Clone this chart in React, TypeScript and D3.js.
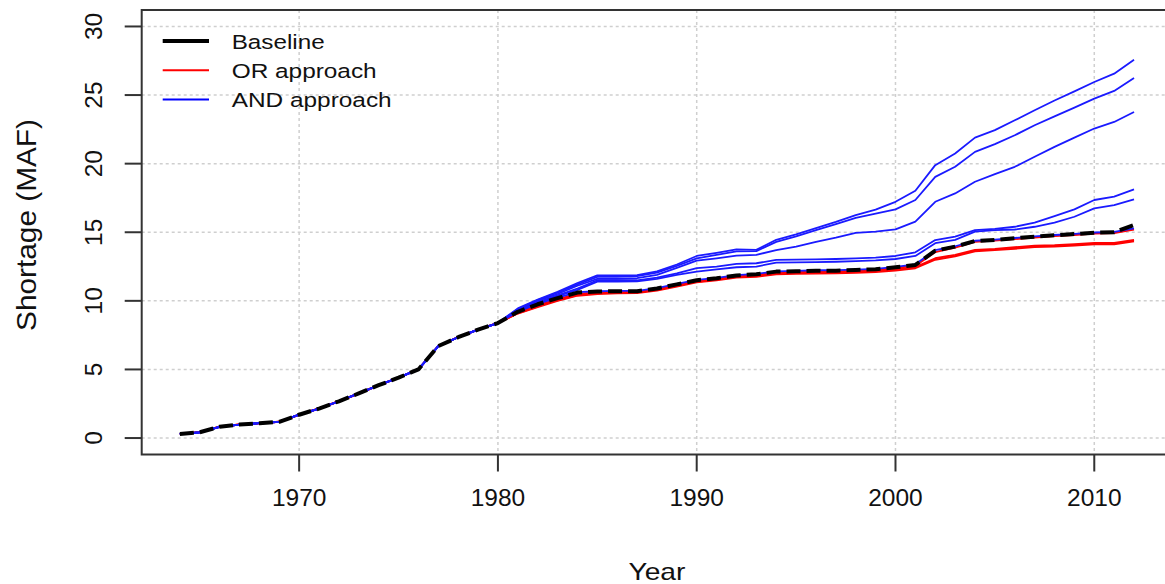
import React from 'react';
import * as d3 from 'd3';

const START_YEAR = 1964;
// 1964-1980, identical for every run
const sharedStart = [0.3, 0.42, 0.82, 0.98, 1.08, 1.18, 1.7, 2.15, 2.68, 3.25, 3.85, 4.4, 5.0, 6.7, 7.35, 7.9, 8.38];

// 1981-2012
const baselineTail = [9.2, 9.75, 10.2, 10.6, 10.68, 10.7, 10.7, 10.9, 11.2, 11.5, 11.65, 11.85, 11.94, 12.13, 12.15, 12.2, 12.2, 12.25, 12.3, 12.45, 12.62, 13.66, 13.95, 14.36, 14.44, 14.56, 14.68, 14.78, 14.87, 14.97, 15.0, 15.53];

const orUpper = [9.15, 9.68, 10.12, 10.5, 10.62, 10.65, 10.66, 10.85, 11.15, 11.45, 11.6, 11.8, 11.88, 12.08, 12.1, 12.15, 12.16, 12.2, 12.25, 12.4, 12.57, 13.55, 13.88, 14.3, 14.4, 14.5, 14.62, 14.72, 14.8, 14.9, 14.95, 15.2];
const orLowA = [9.1, 9.6, 10.05, 10.42, 10.55, 10.6, 10.62, 10.8, 11.1, 11.4, 11.55, 11.75, 11.82, 12.0, 12.03, 12.07, 12.08, 12.12, 12.17, 12.3, 12.45, 13.1, 13.35, 13.71, 13.78, 13.9, 14.02, 14.05, 14.12, 14.22, 14.22, 14.44];
const orLowB = [9.08, 9.55, 10.0, 10.38, 10.5, 10.55, 10.57, 10.75, 11.05, 11.35, 11.5, 11.7, 11.76, 11.94, 11.97, 12.0, 12.02, 12.05, 12.1, 12.22, 12.38, 13.0, 13.25, 13.62, 13.7, 13.8, 13.92, 13.96, 14.03, 14.12, 14.13, 14.35];

const and1 = [9.45, 10.1, 10.65, 11.3, 11.85, 11.85, 11.88, 12.15, 12.65, 13.27, 13.5, 13.75, 13.72, 14.45, 14.85, 15.3, 15.75, 16.25, 16.65, 17.22, 18.02, 19.89, 20.74, 21.9, 22.44, 23.16, 23.89, 24.6, 25.27, 25.95, 26.56, 27.58];
const and2 = [9.4, 10.05, 10.6, 11.2, 11.75, 11.75, 11.8, 12.05, 12.55, 13.1, 13.35, 13.6, 13.62, 14.3, 14.7, 15.15, 15.6, 16.05, 16.35, 16.67, 17.35, 19.04, 19.77, 20.86, 21.42, 22.07, 22.8, 23.45, 24.08, 24.74, 25.3, 26.24];
const and3 = [9.35, 10.0, 10.5, 11.1, 11.6, 11.6, 11.65, 11.9, 12.4, 12.93, 13.1, 13.3, 13.35, 13.7, 13.95, 14.3, 14.6, 14.95, 15.05, 15.21, 15.77, 17.22, 17.83, 18.68, 19.24, 19.77, 20.5, 21.22, 21.9, 22.56, 23.04, 23.77];
const and4 = [9.3, 9.9, 10.4, 10.9, 11.5, 11.5, 11.5, 11.7, 12.0, 12.38, 12.5, 12.7, 12.74, 12.98, 13.0, 13.02, 13.05, 13.1, 13.15, 13.27, 13.54, 14.43, 14.68, 15.16, 15.24, 15.4, 15.7, 16.18, 16.67, 17.35, 17.59, 18.12];
const and5 = [9.25, 9.85, 10.35, 10.8, 11.4, 11.4, 11.42, 11.6, 11.9, 12.13, 12.3, 12.45, 12.5, 12.78, 12.8, 12.82, 12.85, 12.9, 12.95, 13.05, 13.27, 14.2, 14.44, 15.04, 15.16, 15.2, 15.4, 15.7, 16.13, 16.74, 16.98, 17.4];
const and6 = [9.22, 9.78, 10.24, 10.63, 10.7, 10.72, 10.73, 10.93, 11.23, 11.53, 11.68, 11.88, 11.97, 12.15, 12.18, 12.23, 12.24, 12.28, 12.33, 12.48, 12.66, 13.7, 13.98, 14.38, 14.46, 14.58, 14.7, 14.8, 14.88, 14.98, 15.02, 15.28];

const orTails = [orLowB, orLowA, orUpper];
const andTails = [and6, and5, and4, and3, and2, and1];

const xTicks = [1970, 1980, 1990, 2000, 2010];
const yTicks = [0, 5, 10, 15, 20, 25, 30];
const legendLabels = ['Baseline', 'OR approach', 'AND approach'];
const legendColors = ['#000000', '#ff0000', '#0000ff'];
const legendWidths = [4, 2, 2];
const legendTextLen = [93, 145, 160];

const W = 1165;
const H = 584;
const box = { left: 141.7, right: 1172.2, top: 10, bottom: 454.5 };

const x = d3.scaleLinear().domain([1962.08, 2013.92]).range([box.left, box.right]);
const y = d3.scaleLinear().domain([-1.2, 31.2]).range([box.bottom, box.top]);

const toSeries = (tail: number[]) => [...sharedStart, ...tail].map((v, i) => [START_YEAR + i, v] as [number, number]);

const line = d3
  .line<[number, number]>()
  .x((d) => x(d[0]))
  .y((d) => y(d[1]));

const FONT = 'Liberation Sans, Arial, sans-serif';

export default function App() {
  return (
    <svg
      width={W}
      height={H}
      style={{ position: 'absolute', left: 0, top: 0, background: '#fff' }}
      fontFamily={FONT}
    >
      <rect x={0} y={0} width={W} height={H} fill="#fff" />
      {/* grid */}
      {xTicks.map((t) => (
        <line key={'gx' + t} x1={x(t)} x2={x(t)} y1={box.top} y2={box.bottom} stroke="#cfcfcf" strokeWidth={1.5} strokeDasharray="3,3" />
      ))}
      {yTicks.map((t) => (
        <line key={'gy' + t} x1={box.left} x2={box.right} y1={y(t)} y2={y(t)} stroke="#cfcfcf" strokeWidth={1.5} strokeDasharray="3,3" />
      ))}
      {/* OR lines */}
      {orTails.map((t, i) => (
        <path key={'or' + i} d={line(toSeries(t)) || ''} fill="none" stroke="#ff0000" strokeWidth={2} strokeLinejoin="round" />
      ))}
      {/* AND lines */}
      {andTails.map((t, i) => (
        <path key={'and' + i} d={line(toSeries(t)) || ''} fill="none" stroke="#1a1aff" strokeWidth={1.8} strokeLinejoin="round" />
      ))}
      {/* baseline */}
      <path d={line(toSeries(baselineTail)) || ''} fill="none" stroke="#000" strokeWidth={4} strokeDasharray="14,6" strokeLinejoin="round" />
      {/* box */}
      <rect x={box.left} y={box.top} width={box.right - box.left} height={box.bottom - box.top} fill="none" stroke="#333" strokeWidth={2} />
      {/* x axis */}
      {xTicks.map((t) => (
        <g key={'xt' + t}>
          <line x1={x(t)} x2={x(t)} y1={box.bottom} y2={box.bottom + 17} stroke="#333" strokeWidth={2} />
          <text x={x(t)} y={506} textAnchor="middle" fontSize={24.5} fill="#111">
            {t}
          </text>
        </g>
      ))}
      {/* y axis */}
      {yTicks.map((t) => (
        <g key={'yt' + t}>
          <line x1={box.left} x2={box.left - 17} y1={y(t)} y2={y(t)} stroke="#333" strokeWidth={2} />
          <text transform={`translate(102,${y(t)}) rotate(-90)`} textAnchor="middle" fontSize={24.5} fill="#111">
            {t}
          </text>
        </g>
      ))}
      <text x={(box.left + box.right) / 2} y={580} textAnchor="middle" fontSize={24} fill="#111" textLength={57} lengthAdjust="spacingAndGlyphs">
        Year
      </text>
      <text transform={`translate(36,225) rotate(-90)`} textAnchor="middle" fontSize={28} fill="#111" textLength={212} lengthAdjust="spacingAndGlyphs">
        Shortage (MAF)
      </text>
      {/* legend */}
      {legendLabels.map((lab, i) => {
        const ly = 41 + i * 29.2;
        return (
          <g key={lab}>
            <line x1={162.7} x2={209} y1={ly} y2={ly} stroke={legendColors[i]} strokeWidth={legendWidths[i]} />
            <text x={231.7} y={ly + 7.5} fontSize={20.5} fill="#111" textLength={legendTextLen[i]} lengthAdjust="spacingAndGlyphs">
              {lab}
            </text>
          </g>
        );
      })}
    </svg>
  );
}
